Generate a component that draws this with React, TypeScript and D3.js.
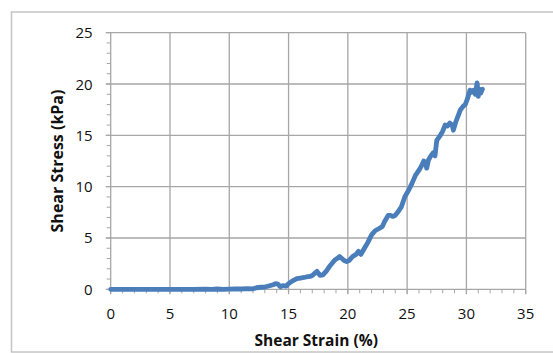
import React from "react";
import * as d3 from "d3";

const strain: number[] = [
  0, 1, 2, 3, 4, 5, 6, 7, 8, 8.5, 9, 9.5, 10, 10.5, 11, 11.5, 12, 12.3, 12.7, 13.0, 13.4, 13.7, 13.9, 14.1, 14.3, 14.5, 14.8, 15.0,
  15.3, 15.7, 16.0, 16.3, 16.5, 16.8, 17.0, 17.2, 17.4, 17.65, 17.9, 18.2, 18.5, 18.9, 19.1, 19.3, 19.5, 19.7, 19.9, 20.1,
  20.4, 20.7, 20.9, 21.0, 21.1, 21.4, 21.7, 22.0, 22.3, 22.6, 22.9, 23.1, 23.4, 23.6, 23.8, 24.0, 24.2, 24.5, 24.8, 25.1,
  25.4, 25.7, 26.0, 26.2, 26.4, 26.55, 26.65, 26.8, 27.0, 27.2, 27.35, 27.5, 27.8, 28.0, 28.2, 28.4, 28.6, 28.8, 28.9,
  29.1, 29.3, 29.5, 29.7, 29.9, 30.1, 30.3, 30.45, 30.6, 30.75, 30.9, 30.95, 31.0, 31.1, 31.2, 31.35,
];
const stress: number[] = [
  0, 0, 0, 0, 0, 0, 0, 0, 0.02, 0, 0.03, 0, 0.02, 0.05, 0.03, 0.06, 0.05, 0.15, 0.2, 0.22, 0.35, 0.45, 0.55, 0.5, 0.25, 0.35, 0.3, 0.55,
  0.8, 1.05, 1.1, 1.15, 1.2, 1.25, 1.35, 1.55, 1.75, 1.35, 1.4, 1.8, 2.3, 2.85, 3.0, 3.2, 3.0, 2.8, 2.7, 2.8,
  3.2, 3.4, 3.7, 3.55, 3.4, 4.0, 4.6, 5.3, 5.7, 5.9, 6.1, 6.6, 7.2, 7.2, 7.1, 7.2, 7.5, 8.0, 9.0, 9.6,
  10.3, 11.1, 11.6, 12.0, 12.5, 12.4, 11.8, 12.6, 13.0, 13.3, 13.0, 14.5, 15.0, 15.4, 16.0, 15.9, 16.2, 16.0, 15.5,
  16.3, 16.9, 17.5, 17.8, 18.0, 18.6, 19.4, 19.2, 19.4, 19.0, 20.1, 19.6, 18.8, 19.5, 19.1, 19.5,
];

const xTicks: number[] = [0, 5, 10, 15, 20, 25, 30, 35];
const yTicks: number[] = [0, 5, 10, 15, 20, 25];

export default function App() {
  const W = 553, H = 353;
  const left = 110.7, right = 525.7, top = 32.7, bottom = 289.3;
  const x = d3.scaleLinear().domain([0, 35]).range([left, right]);
  const y = d3.scaleLinear().domain([0, 25]).range([bottom, top]);
  const pts: [number, number][] = strain.map((s, i) => [s, stress[i]]);
  const line = d3.line<[number, number]>().x(d => x(d[0])).y(d => y(d[1])).curve(d3.curveLinear);
  const minorX = d3.range(0, 36, 1);
  const minorY = d3.range(0, 26, 1);
  const grid = "#a6a6a6";
  const font = "'Open Sans', 'Noto Sans', sans-serif";
  return (
    <svg width={W} height={H} style={{ position: "absolute", left: 0, top: 0, background: "#fff" }}>
      <rect x={11.5} y={12} width={545} height={340} fill="#fff" stroke="#c4c4c4" strokeWidth={1.5} />
      {xTicks.map(t => (
        <line key={"gx" + t} x1={x(t)} x2={x(t)} y1={top} y2={bottom + 5} stroke={grid} strokeWidth={1.3} />
      ))}
      {yTicks.map(t => (
        <line key={"gy" + t} x1={left - 5} x2={right} y1={y(t)} y2={y(t)} stroke={grid} strokeWidth={1.3} />
      ))}
      {minorX.map(t => (
        <line key={"mx" + t} x1={x(t)} x2={x(t)} y1={bottom} y2={bottom + 4} stroke={grid} strokeWidth={1} />
      ))}
      {minorY.map(t => (
        <line key={"my" + t} x1={left - 4} x2={left} y1={y(t)} y2={y(t)} stroke={grid} strokeWidth={1} />
      ))}
      {xTicks.map(t => (
        <text key={"tx" + t} x={x(t)} y={bottom + 30} textAnchor="middle" fontFamily={font} fontSize={15} fill="#111">{t}</text>
      ))}
      {yTicks.map(t => (
        <text key={"ty" + t} x={left - 18} y={y(t) + 5.5} textAnchor="end" fontFamily={font} fontSize={15} fill="#111">{t}</text>
      ))}
      <path d={line(pts) || ""} fill="none" stroke="#4a7ebb" strokeWidth={4.8} strokeLinejoin="round" strokeLinecap="round" />
      <text x={(left + right) / 2 - 2} y={346} textAnchor="middle" fontFamily={font} fontWeight="bold" fontSize={15.5} fill="#111">Shear Strain (%)</text>
      <text transform={`translate(63,${(top + bottom) / 2}) rotate(-90)`} textAnchor="middle" fontFamily={font} fontWeight="bold" fontSize={16} fill="#111">Shear Stress (kPa)</text>
    </svg>
  );
}
